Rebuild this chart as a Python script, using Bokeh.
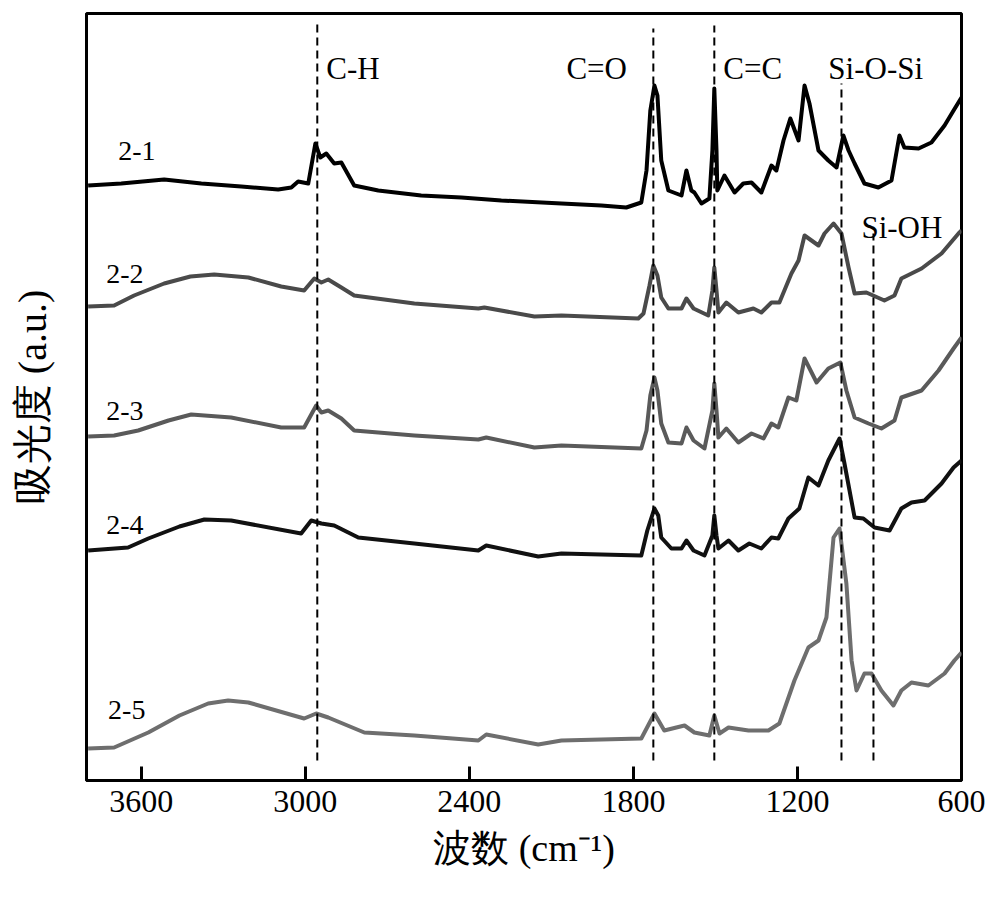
from bokeh.plotting import figure
from bokeh.models import Range1d, FixedTicker
from bokeh.core.properties import value
from bokeh.embed import file_html
from bokeh.resources import INLINE

# ---------------- data (wavenumber cm-1, absorbance a.u., offset spectra) ----------------
wn_21 = [3794, 3673, 3516, 3380, 3234, 3099, 3051, 3026, 2989, 2963, 2945, 2923, 2894, 2868,
         2821, 2733, 2576, 2429, 2283, 2063, 1917, 1826, 1771, 1752, 1738, 1723, 1712, 1698,
         1672, 1624, 1606, 1588, 1577, 1551, 1522, 1511, 1504, 1496, 1493, 1467, 1430, 1398,
         1368, 1332, 1295, 1277, 1251, 1226, 1196, 1174, 1156, 1123, 1087, 1057, 1032, 1013,
         991, 955, 904, 856, 827, 809, 757, 710, 662, 629, 600]
ab_21 = [5.95, 5.97, 6.01, 5.97, 5.94, 5.91, 5.93, 5.99, 5.97, 6.37, 6.23, 6.27, 6.17, 6.18,
         5.95, 5.90, 5.85, 5.83, 5.80, 5.77, 5.75, 5.73, 5.78, 6.10, 6.70, 6.95, 6.85, 6.20,
         5.90, 5.85, 6.10, 5.90, 5.88, 5.77, 5.82, 6.30, 6.92, 6.30, 5.90, 6.05, 5.88, 5.97,
         5.98, 5.88, 6.15, 6.10, 6.40, 6.62, 6.40, 6.95, 6.77, 6.30, 6.20, 6.13, 6.45, 6.30,
         6.17, 5.97, 5.93, 6.00, 6.45, 6.33, 6.32, 6.38, 6.55, 6.70, 6.83]

wn_22 = [3794, 3699, 3626, 3516, 3420, 3333, 3208, 3088, 3004, 2967, 2941, 2916, 2868, 2821, 2601,
         2367, 2345, 2162, 2063, 1782, 1763, 1741, 1727, 1712, 1698, 1672, 1624, 1606, 1580,
         1526, 1511, 1504, 1496, 1489, 1460, 1416, 1361, 1332, 1295, 1266, 1222, 1196, 1174,
         1123, 1101, 1068, 1039, 1013, 991, 948, 882, 845, 820, 746, 673, 611, 600]
ab_22 = [4.74, 4.75, 4.85, 4.97, 5.04, 5.06, 5.03, 4.94, 4.90, 5.02, 4.98, 5.01, 4.93, 4.85, 4.77,
         4.72, 4.73, 4.64, 4.65, 4.62, 4.67, 4.95, 5.15, 5.05, 4.83, 4.72, 4.72, 4.82, 4.72,
         4.65, 4.90, 5.13, 4.90, 4.68, 4.78, 4.68, 4.72, 4.68, 4.78, 4.78, 5.07, 5.20, 5.45,
         5.35, 5.47, 5.57, 5.47, 5.13, 4.87, 4.88, 4.80, 4.85, 5.02, 5.12, 5.27, 5.47, 5.50]

wn_23 = [3794, 3699, 3611, 3500, 3417, 3271, 3088, 3004, 2960, 2941, 2916, 2868, 2821, 2601, 2367,
         2338, 2162, 2063, 1771, 1752, 1738, 1723, 1712, 1698, 1672, 1624, 1606, 1580, 1540,
         1511, 1504, 1496, 1489, 1460, 1416, 1368, 1324, 1295, 1270, 1233, 1204, 1174, 1130,
         1087, 1043, 1021, 991, 940, 893, 845, 820, 746, 684, 629, 600]
ab_23 = [3.44, 3.45, 3.50, 3.60, 3.66, 3.63, 3.53, 3.53, 3.75, 3.68, 3.70, 3.62, 3.50, 3.45, 3.41,
         3.43, 3.33, 3.35, 3.32, 3.50, 3.85, 4.03, 3.90, 3.57, 3.38, 3.37, 3.53, 3.40, 3.32,
         3.70, 3.97, 3.70, 3.43, 3.52, 3.38, 3.47, 3.42, 3.57, 3.53, 3.83, 3.80, 4.22, 3.98,
         4.12, 4.18, 3.90, 3.63, 3.57, 3.52, 3.60, 3.83, 3.90, 4.10, 4.32, 4.43]

wn_24 = [3794, 3648, 3574, 3460, 3369, 3271, 3015, 2978, 2941, 2894, 2806, 2601, 2367, 2338, 2148,
         2063, 1771, 1749, 1723, 1709, 1698, 1661, 1624, 1606, 1580, 1540, 1511, 1504, 1496,
         1489, 1452, 1416, 1376, 1332, 1295, 1270, 1233, 1193, 1160, 1123, 1087, 1046, 1028,
         991, 959, 918, 863, 820, 783, 735, 673, 629, 600]
ab_24 = [2.30, 2.33, 2.42, 2.54, 2.61, 2.60, 2.47, 2.60, 2.57, 2.55, 2.43, 2.37, 2.30, 2.35, 2.24,
         2.27, 2.25, 2.50, 2.72, 2.65, 2.43, 2.32, 2.32, 2.40, 2.30, 2.25, 2.45, 2.65, 2.45,
         2.32, 2.40, 2.30, 2.37, 2.32, 2.43, 2.42, 2.62, 2.72, 3.03, 2.95, 3.20, 3.42, 3.17,
         2.63, 2.62, 2.53, 2.50, 2.72, 2.78, 2.80, 2.97, 3.13, 3.20]

wn_25 = [3794, 3699, 3574, 3460, 3355, 3282, 3208, 3004, 2960, 2916, 2784, 2601, 2367, 2338, 2148, 2063,
         1771, 1723, 1687, 1613, 1577, 1522, 1504, 1485, 1452, 1379, 1306, 1266, 1211, 1160,
         1123, 1094, 1068, 1046, 1021, 1002, 984, 955, 929, 893, 849, 820, 783, 721, 662, 626, 600]
ab_25 = [0.32, 0.33, 0.48, 0.65, 0.77, 0.80, 0.78, 0.62, 0.67, 0.63, 0.48, 0.45, 0.40, 0.46, 0.36, 0.40,
         0.42, 0.67, 0.50, 0.55, 0.48, 0.45, 0.65, 0.47, 0.53, 0.50, 0.50, 0.57, 1.00, 1.33,
         1.40, 1.63, 2.43, 2.52, 1.97, 1.20, 0.90, 1.07, 1.07, 0.90, 0.75, 0.90, 0.98, 0.95,
         1.07, 1.20, 1.28]

series_names = ["2-1", "2-2", "2-3", "2-4", "2-5"]
series_wn = [wn_21, wn_22, wn_23, wn_24, wn_25]
series_ab = [ab_21, ab_22, ab_23, ab_24, ab_25]
series_colors = ["#000000", "#4a4a4a", "#5a5a5a", "#111111", "#6e6e6e"]
# sample label anchor (wavenumber, absorbance)
name_wn = [3684, 3728, 3728, 3728, 3721]
name_ab = [6.30, 5.07, 3.70, 2.56, 0.71]

# band assignments (dashed guide lines)
band_names = ["C-H", "C=O", "C=C", "Si-O-Si", "Si-OH"]
band_wn = [2956, 1727, 1504, 1039, 922]
band_top = [7.57, 7.52, 7.55, 6.97, 5.47]
band_bottom = [0.20, 0.20, 0.20, 0.20, 0.20]
band_label_wn = [2923, 2045, 1471, 1087, 966]
band_label_ab = [7.12, 7.12, 7.12, 7.12, 5.53]

x_ticks = [3600, 3000, 2400, 1800, 1200, 600]

SERIF = "Liberation Serif"

p = figure(width=990, height=915, output_backend="svg", toolbar_location=None,
           x_range=Range1d(3800, 600), y_range=Range1d(0, 7.67),
           min_border_left=86, min_border_right=29, min_border_top=13, min_border_bottom=135)

p.xgrid.visible = False
p.ygrid.visible = False
p.outline_line_color = "black"
p.outline_line_width = 3
p.background_fill_color = "white"

# spectra
for name, xs, ys, c in zip(series_names, series_wn, series_ab, series_colors):
    p.line(xs, ys, line_color=c, line_width=4, line_join="round")

# dashed guide lines
p.segment(x0=band_wn, y0=band_bottom, x1=band_wn, y1=band_top,
          line_color="black", line_width=2, line_dash="8 5")

# band labels
p.text(x=band_label_wn, y=band_label_ab, text=band_names,
       text_font=value(SERIF), text_font_size="31px",
       text_align="left", text_baseline="alphabetic", text_color="black")

# sample labels
p.text(x=name_wn, y=name_ab, text=series_names,
       text_font=value(SERIF), text_font_size="28px",
       text_align="left", text_baseline="alphabetic", text_color="black")

# axes
xa = p.xaxis[0]
xa.ticker = FixedTicker(ticks=x_ticks)
xa.minor_tick_line_color = None
xa.major_tick_in = 14
xa.major_tick_out = 0
xa.major_tick_line_width = 3
xa.axis_line_width = 3
xa.major_label_text_font = SERIF
xa.major_label_text_font_size = "32px"
xa.major_label_text_color = "black"
xa.major_label_standoff = 10
xa.axis_label = "波数 (cm⁻¹)"
xa.axis_label_text_font = SERIF
xa.axis_label_text_font_size = "38px"
xa.axis_label_text_font_style = "normal"
xa.axis_label_text_color = "black"
xa.axis_label_standoff = 12

ya = p.yaxis[0]
ya.ticker = FixedTicker(ticks=[])
ya.minor_tick_line_color = None
ya.major_tick_line_color = None
ya.axis_line_width = 3
ya.major_label_text_font_size = "0px"
ya.axis_label = "吸光度 (a.u.)"
ya.axis_label_text_font = SERIF
ya.axis_label_text_font_size = "40px"
ya.axis_label_text_font_style = "normal"
ya.axis_label_text_color = "black"
ya.axis_label_standoff = 32

open("out.html", "w").write(file_html(p, INLINE))
